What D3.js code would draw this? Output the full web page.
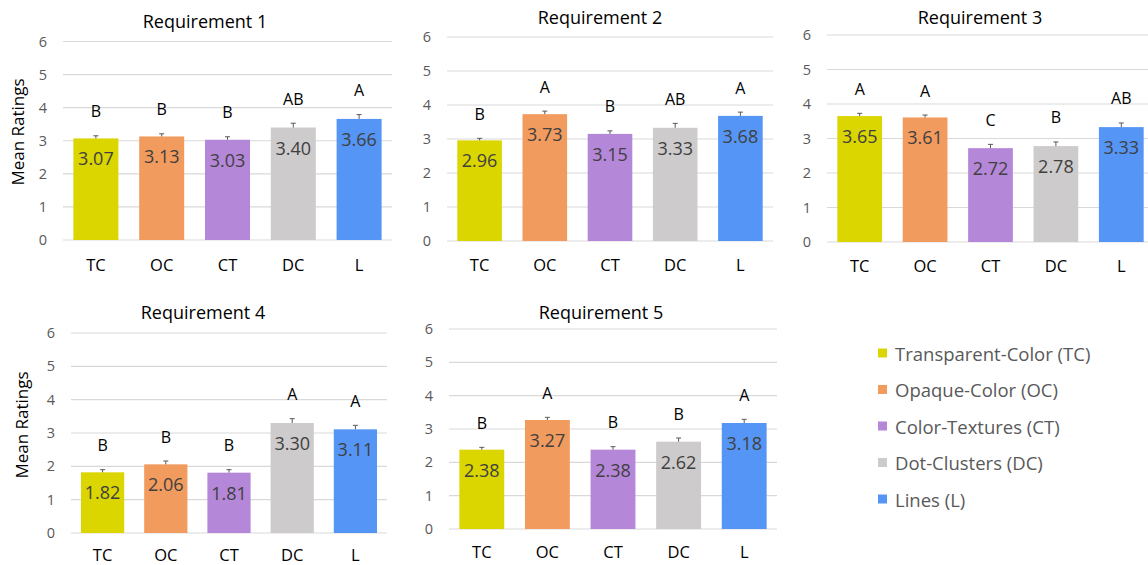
<!DOCTYPE html>
<html>
<head>
<meta charset="utf-8">
<script src="https://cdn.jsdelivr.net/npm/d3@7"></script>
<style>
  html, body { margin: 0; padding: 0; background: #fff; }
  svg { display: block; font-family: "Open Sans", sans-serif; }
</style>
</head>
<body>
<svg id="chart" width="1148" height="565"></svg>
<script>
// ---- data ----
const categories = ["TC", "OC", "CT", "DC", "L"];
const seriesNames = ["Transparent-Color (TC)", "Opaque-Color (OC)", "Color-Textures (CT)", "Dot-Clusters (DC)", "Lines (L)"];
const titles = ["Requirement 1", "Requirement 2", "Requirement 3", "Requirement 4", "Requirement 5"];
const yTicks = [0, 1, 2, 3, 4, 5, 6];

const req1 = [3.07, 3.13, 3.03, 3.40, 3.66];
const req2 = [2.96, 3.73, 3.15, 3.33, 3.68];
const req3 = [3.65, 3.61, 2.72, 2.78, 3.33];
const req4 = [1.82, 2.06, 1.81, 3.30, 3.11];
const req5 = [2.38, 3.27, 2.38, 2.62, 3.18];

const err1 = [0.08, 0.08, 0.09, 0.13, 0.13];
const err2 = [0.06, 0.09, 0.09, 0.13, 0.11];
const err3 = [0.08, 0.07, 0.11, 0.12, 0.12];
const err4 = [0.08, 0.10, 0.09, 0.13, 0.12];
const err5 = [0.07, 0.08, 0.09, 0.11, 0.11];

const grp1 = ["B", "B", "B", "AB", "A"];
const grp2 = ["B", "A", "B", "AB", "A"];
const grp3 = ["A", "A", "C", "B", "AB"];
const grp4 = ["B", "B", "B", "A", "A"];
const grp5 = ["B", "A", "B", "B", "A"];

const values = [req1, req2, req3, req4, req5];
const errors = [err1, err2, err3, err4, err5];
const groups = [grp1, grp2, grp3, grp4, grp5];

// ---- styling / layout ----
const colors = ["#DBD500", "#F29B5E", "#B587D9", "#CDCBCB", "#5595F5"];
const panels = [
  { x0: 63,  x1: 392,  yTop: 41.5, yBot: 240, titleX: 205, titleY: 28,  xLabY: 271, yLab: { x: 17, y: 132 } },
  { x0: 447, x1: 773,  yTop: 37,   yBot: 241, titleX: 600, titleY: 24,  xLabY: 271, yLab: null },
  { x0: 827, x1: 1154, yTop: 35,   yBot: 242, titleX: 980, titleY: 24,  xLabY: 272, yLab: null },
  { x0: 71,  x1: 387,  yTop: 333,  yBot: 533, titleX: 203, titleY: 319, xLabY: 561, yLab: { x: 21, y: 425 } },
  { x0: 449, x1: 777,  yTop: 329,  yBot: 529, titleX: 601, titleY: 319, xLabY: 558, yLab: null }
];

const svg = d3.select("#chart");
const pad = 0.316;

panels.forEach((p, i) => {
  const g = svg.append("g");
  const x = d3.scaleBand().domain(categories).range([p.x0, p.x1])
    .paddingInner(pad).paddingOuter(pad / 2);
  const y = d3.scaleLinear().domain([0, 6]).range([p.yBot, p.yTop]);

  // gridlines
  g.append("g").selectAll("line").data(yTicks).join("line")
    .attr("x1", p.x0).attr("x2", p.x1)
    .attr("y1", d => y(d)).attr("y2", d => y(d))
    .attr("stroke", "#D9D9D9").attr("stroke-width", 1.2);

  // y axis labels
  const yAxis = d3.axisLeft(y).tickValues(yTicks).tickSize(0).tickPadding(16).tickFormat(d3.format("d"));
  const ya = g.append("g").attr("transform", `translate(${p.x0},0)`).call(yAxis);
  ya.select(".domain").remove();
  ya.selectAll("text").attr("fill", "#595959").style("font-size", "14.5px")
    .style("font-family", "'Open Sans', sans-serif");

  // x axis labels
  const xAxis = d3.axisBottom(x).tickSize(0).tickPadding(0);
  const xa = g.append("g").attr("transform", `translate(0,${p.xLabY})`).call(xAxis);
  xa.select(".domain").remove();
  xa.selectAll("text").attr("dy", null).attr("y", 0).attr("fill", "#000")
    .style("font-size", "16.5px").style("font-family", "'Open Sans', sans-serif");

  const vals = values[i], errs = errors[i], grps = groups[i];
  const rows = categories.map((c, j) => ({ c, v: vals[j], e: errs[j], g: grps[j], color: colors[j] }));

  // bars
  g.append("g").selectAll("rect").data(rows).join("rect")
    .attr("x", d => x(d.c)).attr("width", x.bandwidth())
    .attr("y", d => y(d.v)).attr("height", d => y(0) - y(d.v))
    .attr("fill", d => d.color);

  // error bars (upper only)
  const eg = g.append("g").attr("stroke", "#595959").attr("stroke-width", 1);
  eg.selectAll("line.v").data(rows).join("line").attr("class", "v")
    .attr("x1", d => x(d.c) + x.bandwidth() / 2).attr("x2", d => x(d.c) + x.bandwidth() / 2)
    .attr("y1", d => y(d.v)).attr("y2", d => y(d.v + d.e));
  eg.selectAll("line.c").data(rows).join("line").attr("class", "c")
    .attr("x1", d => x(d.c) + x.bandwidth() / 2 - 2.5).attr("x2", d => x(d.c) + x.bandwidth() / 2 + 2.5)
    .attr("y1", d => y(d.v + d.e)).attr("y2", d => y(d.v + d.e));

  // value labels
  g.append("g").selectAll("text").data(rows).join("text")
    .attr("x", d => x(d.c) + x.bandwidth() / 2)
    .attr("y", d => y(d.v) + 27)
    .attr("text-anchor", "middle").attr("fill", "#404040")
    .style("font-size", "18px")
    .text(d => d.v.toFixed(2));

  // group letters
  g.append("g").selectAll("text").data(rows).join("text")
    .attr("x", d => x(d.c) + x.bandwidth() / 2)
    .attr("y", d => y(d.v + d.e) - 18.5)
    .attr("text-anchor", "middle").attr("fill", "#000")
    .style("font-size", "16px")
    .text(d => d.g);

  // title
  g.append("text").attr("x", p.titleX).attr("y", p.titleY)
    .attr("text-anchor", "middle").attr("fill", "#000")
    .style("font-size", "18px").text(titles[i]);

  // y axis title
  if (p.yLab) {
    g.append("text")
      .attr("transform", `translate(${p.yLab.x},${p.yLab.y}) rotate(-90)`)
      .attr("text-anchor", "middle").attr("dominant-baseline", "central")
      .attr("fill", "#000").style("font-size", "17px").text("Mean Ratings");
  }
});

// legend
const leg = svg.append("g");
const ly = d3.scalePoint().domain(seriesNames).range([353, 499]);
leg.selectAll("rect").data(seriesNames).join("rect")
  .attr("x", 878).attr("y", d => ly(d) - 4.5).attr("width", 9).attr("height", 9)
  .attr("fill", (d, j) => colors[j]);
leg.selectAll("text").data(seriesNames).join("text")
  .attr("x", 895).attr("y", d => ly(d)).attr("dominant-baseline", "central")
  .attr("fill", "#595959").style("font-size", "18.5px").text(d => d);
</script>
</body>
</html>
